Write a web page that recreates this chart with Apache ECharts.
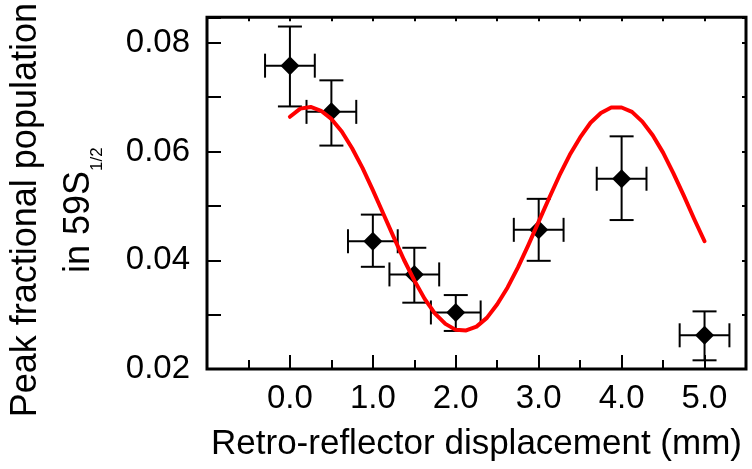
<!DOCTYPE html>
<html><head><meta charset="utf-8">
<script src="https://cdn.jsdelivr.net/npm/echarts@6/dist/echarts.min.js"></script>
<style>html,body{margin:0;padding:0;background:#fff}#c{width:752px;height:469px}</style>
</head><body><div id="c"></div>
<script>
// measured data points
const displacement = [0.0, 0.5, 1.0, 1.5, 2.0, 3.0, 4.0, 5.0];
const population   = [0.0758, 0.0673, 0.0435, 0.0374, 0.0304, 0.0456, 0.0550, 0.0262];
const popLow       = [0.0683, 0.0611, 0.0388, 0.0322, 0.0270, 0.0399, 0.0474, 0.0216];
const popHigh      = [0.0830, 0.0731, 0.0484, 0.0423, 0.0336, 0.0513, 0.0628, 0.0306];
const dispErr      = [0.3, 0.3, 0.3, 0.3, 0.3, 0.3, 0.3, 0.3];
// fitted curve
const fitX = [0.0, 0.125, 0.25, 0.375, 0.5, 0.625, 0.75, 0.875, 1.0, 1.125, 1.25, 1.375, 1.5, 1.625, 1.75, 1.875,
              2.0, 2.125, 2.25, 2.375, 2.5, 2.625, 2.75, 2.875, 3.0, 3.125, 3.25, 3.375, 3.5, 3.625, 3.75, 3.875,
              4.0, 4.125, 4.25, 4.375, 4.5, 4.625, 4.75, 4.875, 5.0];
const fitY = [0.0664, 0.0679, 0.0682, 0.0675, 0.0660, 0.0637, 0.0606, 0.0570, 0.0529, 0.0486, 0.0443, 0.0401, 0.0363, 0.0329, 0.0302, 0.0283,
              0.0272, 0.0271, 0.0278, 0.0294, 0.0319, 0.0350, 0.0387, 0.0428, 0.0471, 0.0514, 0.0556, 0.0594, 0.0626, 0.0653, 0.0671, 0.0681,
              0.0681, 0.0673, 0.0655, 0.0630, 0.0598, 0.0560, 0.0519, 0.0476, 0.0435];
// tick labels
const xTickLabels = ['0.0', '1.0', '2.0', '3.0', '4.0', '5.0'];
const yTickLabels = ['0.02', '0.04', '0.06', '0.08'];

const FONT = "'Liberation Sans', Arial, sans-serif";
const chart = echarts.init(document.getElementById('c'));

const errData = displacement.map((x, i) => [x, population[i], popLow[i], popHigh[i], dispErr[i]]);
const pts = displacement.map((x, i) => [x, population[i]]);
const fit = fitX.map((x, i) => [x, fitY[i]]);

function pick(list, digits) {
  return function (v) {
    const s = Number(v).toFixed(digits);
    if (Math.abs(Number(s) - v) > 1e-9) return '';
    return list.indexOf(s) >= 0 ? s : '';
  };
}

function noLine() { return { show: false, onZero: false }; }
function tick(len) { return { show: true, inside: true, length: len, lineStyle: { color: '#000', width: 2 } }; }
const noSplit = { show: false };

chart.setOption({
  animation: false,
  backgroundColor: '#fff',
  grid: { left: 207, right: 6, top: 12, bottom: 100, containLabel: false,
          show: true, borderColor: '#000', borderWidth: 3, backgroundColor: 'transparent' },
  xAxis: [
    { type: 'value', position: 'bottom', min: -1, max: 5.5, interval: 0.5,
      axisLine: noLine(), splitLine: noSplit, axisLabel: { show: false }, axisTick: tick(9) },
    { type: 'value', position: 'bottom', min: -1, max: 5.5, interval: 1,
      axisLine: noLine(), splitLine: noSplit, axisTick: tick(14),
      axisLabel: { show: true, margin: 13, fontSize: 33, fontFamily: FONT, color: '#000', formatter: pick(xTickLabels, 1) },
      name: 'Retro-reflector displacement (mm)', nameLocation: 'middle', nameGap: 58,
      nameTextStyle: { fontSize: 35, fontFamily: FONT, color: '#000' } },
    { type: 'value', position: 'top', min: -1, max: 5.5, interval: 0.5,
      axisLine: noLine(), splitLine: noSplit, axisLabel: { show: false }, axisTick: tick(4) }
  ],
  yAxis: [
    { type: 'value', position: 'left', min: 0.02, max: 0.0847, interval: 0.01,
      axisLine: noLine(), splitLine: noSplit, axisTick: tick(14),
      axisLabel: { show: true, margin: 17, fontSize: 33, fontFamily: FONT, color: '#000', formatter: pick(yTickLabels, 2) },
      name: '{a|Peak fractional population}\n{a|in 59S}{s|1/2}', nameLocation: 'middle', nameGap: 101,
      nameTextStyle: { fontSize: 36, fontFamily: FONT, color: '#000', padding: [0, 34, 0, 0],
        rich: {
          a: { fontSize: 36, lineHeight: 53, fontFamily: FONT, color: '#000' },
          s: { fontSize: 17, lineHeight: 20, verticalAlign: 'bottom', fontFamily: FONT, color: '#000' }
        } } },
    { type: 'value', position: 'right', min: 0.02, max: 0.0847, interval: 0.01,
      axisLine: noLine(), splitLine: noSplit, axisLabel: { show: false }, axisTick: tick(4) }
  ],
  series: [
    { type: 'custom', xAxisIndex: 0, yAxisIndex: 0, z: 2, data: errData,
      renderItem: function (params, api) {
        const x = api.value(0), y = api.value(1), lo = api.value(2), hi = api.value(3), xe = api.value(4);
        const pl = api.coord([x, lo]), ph = api.coord([x, hi]);
        const pxl = api.coord([x - xe, y]), pxh = api.coord([x + xe, y]);
        const cap = 12;
        const st = { stroke: '#000', lineWidth: 2, fill: null };
        const L = (x1, y1, x2, y2) => ({ type: 'line', shape: { x1, y1, x2, y2 }, style: st });
        return { type: 'group', children: [
          L(pl[0], pl[1], ph[0], ph[1]),
          L(ph[0] - cap, ph[1], ph[0] + cap, ph[1]),
          L(pl[0] - cap, pl[1], pl[0] + cap, pl[1]),
          L(pxl[0], pxl[1], pxh[0], pxh[1]),
          L(pxl[0], pxl[1] - cap, pxl[0], pxl[1] + cap),
          L(pxh[0], pxh[1] - cap, pxh[0], pxh[1] + cap)
        ] };
      } },
    { type: 'scatter', xAxisIndex: 0, yAxisIndex: 0, z: 3, data: pts,
      symbol: 'diamond', symbolSize: [19, 19], itemStyle: { color: '#000', opacity: 1 } },
    { type: 'line', xAxisIndex: 0, yAxisIndex: 0, z: 4, data: fit, smooth: false,
      showSymbol: false, symbol: 'none', lineStyle: { color: '#ff0000', width: 4, cap: 'round', join: 'round' } }
  ]
});
</script>
</body></html>
